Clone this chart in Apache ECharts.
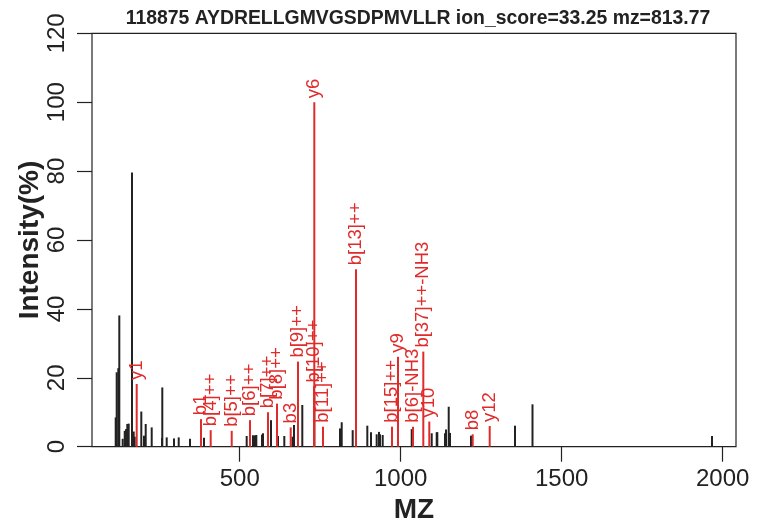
<!DOCTYPE html>
<html>
<head>
  <meta charset="UTF-8">
  <title>118875 AYDRELLGMVGSDPMVLLR</title>
  <script src="https://cdn.jsdelivr.net/npm/echarts@6/dist/echarts.min.js"></script>
  <style>
    body { margin: 0; background: #fff; }
    #chart { width: 761px; height: 530px; }
  </style>
</head>
<body>
  <div id="chart"></div>
  <script type="text/javascript">
    // unmatched peaks (black)
    var peakMz = [114.9, 118.0, 123.0, 126.1, 136.6, 142.9, 146.9, 150.9, 155.3, 165.5,
      170.8, 173.9, 194.4, 202.8, 208.1, 226.7, 258.7, 259.6, 273.3, 296.0,
      310.6, 345.7, 389.1, 521.7, 541.3, 547.5, 551.6, 569.3, 572.4, 597.2,
      619.0, 638.5, 664.0, 668.6, 694.4, 731.7, 811.5, 816.8, 850.9, 896.3,
      907.7, 925.4, 932.6, 935.7, 944.1, 1034.2, 1096.3, 1111.8, 1113.7, 1137.6,
      1140.7, 1149.1, 1153.1, 1218.3, 1355.0, 1409.3, 1966.8];
    var peakInt = [8.5, 21.6, 22.8, 38.1, 2.3, 4.6, 5.1, 6.6, 6.7, 79.6,
      4.4, 2.9, 10.2, 3.2, 6.6, 5.6, 2.5, 17.2, 2.7, 2.4,
      2.7, 2.3, 2.6, 3.1, 3.3, 3.3, 3.4, 3.5, 3.9, 7.7,
      3.1, 3.1, 2.9, 6.3, 12.1, 16.0, 5.3, 7.1, 4.8, 6.1,
      4.2, 3.6, 4.3, 3.6, 3.4, 5.1, 3.9, 4.2, 4.2, 3.9,
      5.0, 11.6, 4.0, 3.2, 6.1, 12.3, 3.1];

    // matched ions (red)
    var ionNames = ['y1', 'b1', 'b[4]++', 'b[5]++', 'b[6]++', 'b[7]++', 'b[8]++', 'b3', 'b[9]++',
      'y6', 'b[10]++', 'b[11]++', 'b[13]++', 'b[15]++', 'y9', 'b[6]-NH3', 'b[37]++-NH3',
      'y10', 'b8', 'y12'];
    var ionMz = [180.1, 379.8, 409.9, 475.2, 532.0, 587.9, 615.9, 658.4, 681.1,
      731.7, 730.7, 758.7, 861.2, 973.0, 991.6, 1038.2, 1070.2,
      1088.8, 1223.6, 1276.4];
    var ionInt = [18.2, 8.0, 4.8, 4.6, 7.7, 10.0, 12.5, 5.6, 24.7,
      100.0, 17.5, 5.8, 51.5, 5.8, 26.1, 5.8, 27.6,
      7.3, 3.6, 6.0];

    var xTicks = [500, 1000, 1500, 2000];
    var title = '118875 AYDRELLGMVGSDPMVLLR ion_score=33.25 mz=813.77';

    var font = "'Liberation Sans', Arial, sans-serif";
    var ink = '#222';
    var red = '#e02b2b';

    var peakData = peakMz.map(function (m, i) { return [m, peakInt[i]]; });
    var ionData = ionMz.map(function (m, i) { return [m, ionInt[i], ionNames[i]]; });

    function stick(color, withLabel) {
      return function (params, api) {
        var top = api.coord([api.value(0), api.value(1)]);
        var base = api.coord([api.value(0), 0]);
        var children = [{
          type: 'line',
          shape: { x1: top[0], y1: base[1], x2: top[0], y2: top[1] },
          style: { stroke: color, lineWidth: 2 }
        }];
        if (withLabel) {
          children.push({
            type: 'text',
            x: top[0],
            y: top[1] - 4,
            rotation: Math.PI / 2,
            style: {
              text: api.value(2),
              fill: color,
              font: '18.5px ' + font,
              align: 'left',
              verticalAlign: 'middle'
            }
          });
        }
        return { type: 'group', children: children };
      };
    }

    var myChart = echarts.init(document.getElementById('chart'), null, { renderer: 'canvas' });
    var option = {
      animation: false,
      backgroundColor: '#fff',
      textStyle: { fontFamily: font },
      title: {
        text: title,
        left: 413,
        top: 4,
        textAlign: 'center',
        textStyle: { fontSize: 19.4, fontWeight: 'bold', color: ink, fontFamily: font }
      },
      grid: {
        left: 92,
        right: 25,
        top: 33.3,
        bottom: 83.3,
        outerBoundsMode: 'none',
        show: true,
        borderColor: ink,
        borderWidth: 1.2
      },
      xAxis: {
        type: 'value',
        min: 41.3,
        max: 2041.3,
        name: 'MZ',
        nameLocation: 'middle',
        nameGap: 48,
        nameTextStyle: { fontSize: 28, fontWeight: 'bold', color: ink, fontFamily: font },
        axisLine: { show: false },
        splitLine: { show: false },
        axisTick: { show: true, customValues: xTicks, length: 15, lineStyle: { color: ink, width: 1.2 } },
        axisLabel: {
          customValues: xTicks,
          fontSize: 24,
          color: ink,
          margin: 21,
          fontFamily: font,
          formatter: function (v) { return String(v); }
        }
      },
      yAxis: {
        type: 'value',
        min: 0,
        max: 120,
        interval: 20,
        name: 'Intensity(%)',
        nameLocation: 'middle',
        nameGap: 48,
        nameMoveOverlap: false,
        nameTextStyle: { fontSize: 28, fontWeight: 'bold', color: ink, fontFamily: font },
        axisLine: { show: false },
        splitLine: { show: false },
        axisTick: { show: true, length: 15, lineStyle: { color: ink, width: 1.2 } },
        axisLabel: { rotate: 90, fontSize: 24, color: ink, margin: 23, fontFamily: font }
      },
      series: [
        {
          type: 'custom',
          name: 'peaks',
          renderItem: stick(ink, false),
          encode: { x: 0, y: 1 },
          data: peakData,
          z: 2
        },
        {
          type: 'custom',
          name: 'ions',
          renderItem: stick(red, true),
          encode: { x: 0, y: 1 },
          data: ionData,
          z: 3
        }
      ]
    };
    myChart.setOption(option);
  </script>
</body>
</html>
